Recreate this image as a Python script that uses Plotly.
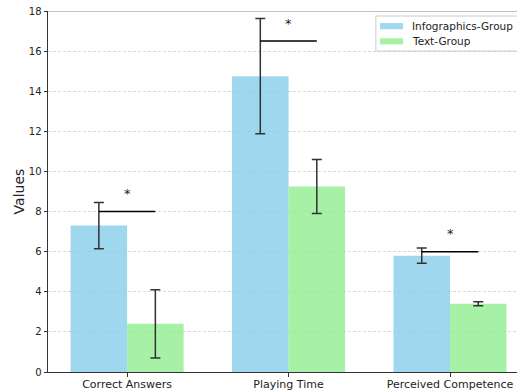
import plotly.graph_objects as go

categories = ["Correct Answers", "Playing Time", "Perceived Competence"]
group_names = ["Infographics-Group", "Text-Group"]
group_colors = ["#87CEEB", "#90EE90"]
info_means = [7.3, 14.75, 5.8]
info_err = [1.15, 2.87, 0.38]
text_means = [2.4, 9.25, 3.4]
text_err = [1.7, 1.35, 0.1]
sig_levels = [8.0, 16.5, 6.0]
sig_marks = ["*", "*", "*"]

bar_w = 0.35
xs = list(range(len(categories)))

fig = go.Figure()
for offset, name, color, means, errs in [
    (-bar_w / 2, group_names[0], group_colors[0], info_means, info_err),
    (bar_w / 2, group_names[1], group_colors[1], text_means, text_err),
]:
    fig.add_trace(go.Bar(
        x=[x + offset for x in xs], y=means, width=bar_w, name=name,
        marker=dict(color=color, line=dict(width=0)), opacity=0.8, showlegend=False,
        error_y=dict(type="data", array=errs, color="black", thickness=1.5, width=5),
    ))

# significance brackets between the two group centres
for x, lvl, mark in zip(xs, sig_levels, sig_marks):
    fig.add_shape(type="line", x0=x - bar_w / 2, x1=x + bar_w / 2, y0=lvl, y1=lvl,
                  line=dict(color="black", width=1.5), layer="above")
    fig.add_annotation(x=x, y=lvl + 0.9, text=mark, showarrow=False,
                       font=dict(size=13, color="#222222"))

# top boundary line
fig.add_shape(type="line", xref="paper", x0=0, x1=1, y0=18, y1=18,
              line=dict(color="#888888", width=1))

# legend box drawn in paper space so it can run past the right edge
fig.add_shape(type="rect", xref="paper", yref="paper", x0=0.699, x1=1.06, y0=0.889, y1=0.986,
              line=dict(color="#cccccc", width=1), fillcolor="rgba(255,255,255,0.8)",
              layer="above")
for i, (name, color) in enumerate(zip(group_names, group_colors)):
    yc = 0.958 - i * 0.042
    fig.add_shape(type="rect", xref="paper", yref="paper", x0=0.708, x1=0.757,
                  y0=yc - 0.0085, y1=yc + 0.0085, fillcolor=color, opacity=0.8,
                  line=dict(width=0), layer="above")
    fig.add_annotation(xref="paper", yref="paper", x=0.772, y=yc, text=name,
                       xanchor="left", yanchor="middle", showarrow=False,
                       font=dict(size=10.5, color="#222222"))

fig.update_layout(
    width=517, height=392,
    margin=dict(l=48, r=0, t=11, b=20),
    plot_bgcolor="white", paper_bgcolor="white",
    font=dict(family="DejaVu Sans", size=11, color="black"),
    barmode="overlay",
    showlegend=False,
    xaxis=dict(range=[-0.49, 2.415], tickmode="array", tickvals=xs, ticktext=categories,
               automargin=False, ticklabelstandoff=-2,
               showgrid=False, zeroline=False, showline=True, linecolor="#333333", linewidth=1,
               ticks="outside", ticklen=3.5, tickcolor="#333333",
               tickfont=dict(size=11, color="#222222")),
    yaxis=dict(range=[0, 18], dtick=2, showgrid=True, gridcolor="#d8d8d8", griddash="3px,2px",
               gridwidth=0.8, zeroline=False, showline=True, linecolor="#333333", linewidth=1,
               ticks="outside", ticklen=3.5, tickcolor="#333333", automargin=False,
               tickfont=dict(size=10, color="#222222"),
               title=dict(text="Values", font=dict(size=14, color="#222222"), standoff=0)),
)

fig.write_html("out.html")
